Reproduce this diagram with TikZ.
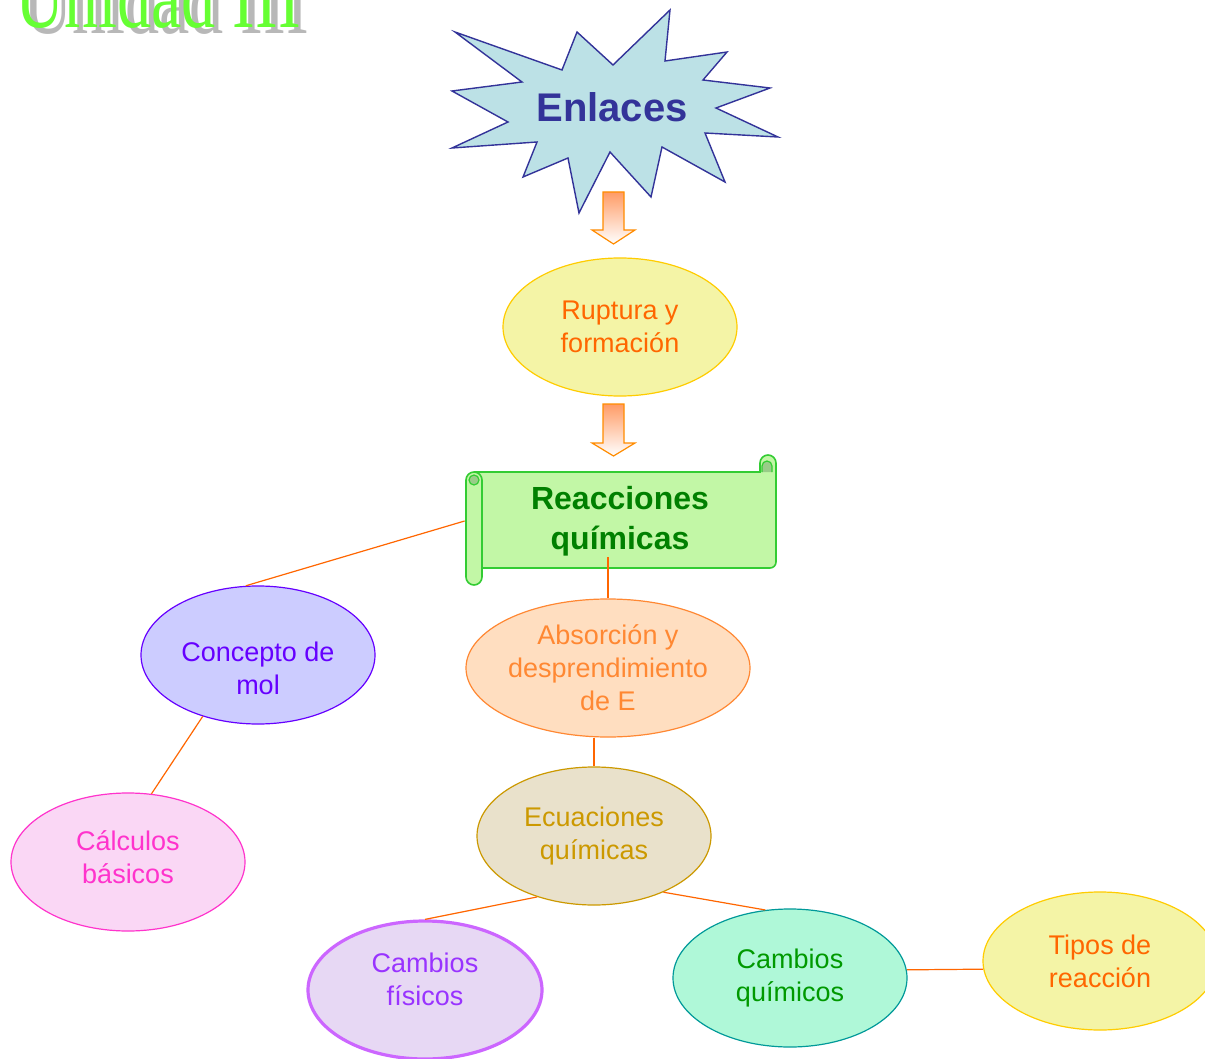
\documentclass[tikz,border=0pt]{standalone}
\usepackage{fontspec}
\setmainfont{Liberation Sans}
\newfontfamily\titlefont{Liberation Serif}
\usepackage{xcolor}
\usetikzlibrary{shapes.geometric,positioning}

\definecolor{lineor}{HTML}{FF6600}
\definecolor{starfill}{HTML}{BCE1E6}
\definecolor{starline}{HTML}{333399}
\definecolor{scrollfill}{HTML}{C2F7A6}
\definecolor{scrollline}{HTML}{33CC33}
\definecolor{scrolldark}{HTML}{99CC88}
\definecolor{titgreen}{HTML}{66FF33}
\definecolor{amafill}{HTML}{F4F4A6}
\definecolor{amaline}{HTML}{FFCC00}
\definecolor{molfill}{HTML}{CCCCFF}
\definecolor{molline}{HTML}{6600FF}
\definecolor{absfill}{HTML}{FFDEC0}
\definecolor{absline}{HTML}{FF8833}
\definecolor{calfill}{HTML}{FAD7F5}
\definecolor{calline}{HTML}{FF33CC}
\definecolor{ecufill}{HTML}{E9E1CB}
\definecolor{eculine}{HTML}{CC9900}
\definecolor{fisfill}{HTML}{E7D8F4}
\definecolor{fisline}{HTML}{CC66FF}
\definecolor{fistext}{HTML}{9933FF}
\definecolor{quifill}{HTML}{AFF8D8}
\definecolor{quiline}{HTML}{009999}
\definecolor{quitext}{HTML}{009900}

\tikzset{
  burbuja/.style={ellipse, draw, line width=0.6pt, inner sep=0pt,
    minimum width=117pt, minimum height=69pt, align=center,
    font=\fontsize{13.5}{16.5}\selectfont},
  enlace/.style={draw=lineor, line width=0.6pt},
  flecha/.style={draw=orange!90!yellow, line width=0.6pt, top color=orange!70!red!60, bottom color=white},
  titulo/.style={anchor=base west, inner sep=0pt, xscale=0.71, font=\titlefont\fontsize{48}{48}\selectfont}
}

\begin{document}
\begin{tikzpicture}[x=0.5pt, y=-0.5pt]
	\useasboundingbox[fill=white] (0,0) rectangle (1205,1059);%
	% titulo cortado arriba
	\node[titulo, text=black!28] (titsombra) at (23,34) {Unidad III};%
	\node[titulo, text=titgreen] (tit) at (15,28) {Unidad III};%
	% estrella
	\filldraw[fill=starfill, draw=starline, line width=0.7pt] (455,32) -- (562,70) -- (577,32) -- (613,65) -- (670,10) -- (665,61) -- (727,52) -- (703,80) -- (770,88) -- (716,108) -- (778,137) -- (705,133) -- (725,182) -- (662,147) -- (651,197) -- (610,152) -- (579,213) -- (568,158) -- (523,177) -- (537,142) -- (452,148) -- (508,122) -- (452,91) -- (522,82) -- cycle;%
	\node[text=starline, font=\bfseries\fontsize{20}{24}\selectfont] (enl) at (612,107) {Enlaces};%
	% flechas
	\path[flecha] (603,192) -- (624,192) -- (624,230) -- (635,230) -- (613.5,244) -- (592,230) -- (603,230) -- cycle;%
	\node[burbuja, fill=amafill, draw=amaline, text=lineor] (rup) at (620,327) {Ruptura y\\formación};%
	\path[flecha] (603,404) -- (624,404) -- (624,443) -- (635,443) -- (613.5,456) -- (592,443) -- (603,443) -- cycle;%
	% pergamino
	\filldraw[fill=scrollfill, draw=scrollline, line width=0.8pt] (474,472) -- (760,472) -- (760,463) arc[start angle=180, end angle=360, radius=8] -- (776,562) arc[start angle=0, end angle=90, radius=6] -- (482,568);%
	\filldraw[fill=scrolldark, draw=scrollline, line width=0.6pt] (762,472) -- (762,466) arc[start angle=180, end angle=360, radius=5] -- (772,472);%
	\filldraw[fill=scrollfill, draw=scrollline, line width=0.8pt] (466,480) arc[start angle=180, end angle=360, radius=8] -- (482,577) arc[start angle=0, end angle=180, radius=8] -- cycle;%
	\filldraw[fill=scrolldark, draw=scrollline, line width=0.6pt] (474,480) circle[radius=5];%
	\node[minimum width=155pt, minimum height=49pt, inner sep=0pt, align=center, text=green!50!black, font=\bfseries\fontsize{16}{20}\selectfont] (reac) at (620,521) {Reacciones\\químicas};%
	\coordinate (reacpie) at (608,557);%
	% burbujas
	\node[burbuja, fill=molfill, draw=molline, text=molline] (con) at (258,655) {\rule{0pt}{23pt}Concepto de\\mol};%
	\node[burbuja, minimum width=142pt, fill=absfill, draw=absline, text=absline] (abs) at (608,668) {Absorción y\\desprendimiento\\de E};%
	\node[burbuja, fill=calfill, draw=calline, text=calline] (cal) at (128,862) {Cálculos\\básicos\rule[-5pt]{0pt}{5pt}};%
	\node[burbuja, fill=ecufill, draw=eculine, text=eculine] (ecu) at (594,836) {Ecuaciones\\químicas};%
	\node[burbuja, line width=1.6pt, fill=fisfill, draw=fisline, text=fistext] (fis) at (425,990) {Cambios\\físicos\rule[-11pt]{0pt}{11pt}};%
	\node[burbuja, fill=quifill, draw=quiline, text=quitext] (qui) at (790,978) {Cambios\\químicos};%
	\node[burbuja, fill=amafill, draw=amaline, text=lineor] (tip) at (1100,961) {Tipos de\\reacción};%
	% enlaces
	\draw[enlace] (reac.west) -- (con.100);%
	\draw[enlace] (reacpie) -- (abs.north -| reacpie);%
	\draw[enlace] (con.228) -- (cal.71);%
	\draw[enlace] (abs.south -| ecu.north) -- (ecu.north);%
	\draw[enlace] (ecu.227) -- (fis.north);%
	\draw[enlace] (ecu.321) -- (qui.110);%
	\draw[enlace] (qui.4) -- (tip.184);%
\end{tikzpicture}
\end{document}
